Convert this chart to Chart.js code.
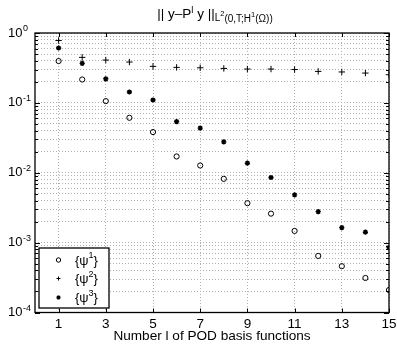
<!DOCTYPE html>
<html>
<head>
<meta charset="utf-8">
<script src="https://cdn.jsdelivr.net/npm/chart.js@4.4.1/dist/chart.umd.min.js"></script>
<style>
  html, body { margin: 0; padding: 0; background: #fff; }
</style>
</head>
<body>
<canvas id="myChart" width="397" height="344"></canvas>
<script>
// data
const nBasis = [1, 2, 3, 4, 5, 6, 7, 8, 9, 10, 11, 12, 13, 14, 15];
const psi1 = [0.397, 0.216, 0.106, 0.0612, 0.0382, 0.0171, 0.0127, 0.00818, 0.00367, 0.0026, 0.00147, 0.000645, 0.00046, 0.000312, 0.00021];
const psi2 = [0.78, 0.448, 0.41, 0.384, 0.333, 0.322, 0.318, 0.311, 0.305, 0.305, 0.30, 0.282, 0.277, 0.267, 0.253];
const psi3 = [0.61, 0.367, 0.221, 0.143, 0.11, 0.054, 0.0435, 0.0277, 0.0137, 0.00855, 0.00482, 0.00278, 0.00164, 0.00141, 0.000848];
const xTicks = [1, 3, 5, 7, 9, 11, 13, 15];
const yDecades = [-4, -3, -2, -1, 0];
const legendLabels = ['{\u03C8', '{\u03C8', '{\u03C8'];
const legendSups = ['1', '2', '3'];

const FONT = '"Liberation Sans", Arial, Helvetica, sans-serif';

function pts(arr) {
  return nBasis.map(function(n, i){ return {x: n, y: arr[i]}; });
}

// all minor + major log positions
const logTicks = [];
for (let d = -4; d < 0; d++) {
  for (let k = 1; k <= 9; k++) logTicks.push(k * Math.pow(10, d));
}
logTicks.push(1);

function marker(ctx, style, x, y) {
  ctx.save();
  ctx.strokeStyle = '#000';
  ctx.beginPath();
  if (style == 'circle') {
    ctx.lineWidth = 1;
    ctx.arc(x, y, 2.2, 0, Math.PI * 2);
  } else if (style == 'cross') {
    ctx.lineWidth = 1;
    ctx.moveTo(x - 2, y); ctx.lineTo(x + 2, y);
    ctx.moveTo(x, y - 2); ctx.lineTo(x, y + 2);
  } else {
    ctx.lineWidth = 1.4;
    const r = 2;
    for (let a = 0; a < 4; a++) {
      const t = a * Math.PI / 4;
      ctx.moveTo(x - r * Math.cos(t), y - r * Math.sin(t));
      ctx.lineTo(x + r * Math.cos(t), y + r * Math.sin(t));
    }
  }
  ctx.stroke();
  ctx.restore();
}

// draw a sequence of [text, size, dy] pieces
function drawPieces(ctx, pieces, cx, baseY) {
  let w = 0;
  pieces.forEach(function(p){ ctx.font = p[1] + 'px ' + FONT; w += ctx.measureText(p[0]).width; });
  let x = cx - w / 2;
  ctx.textAlign = 'left';
  ctx.textBaseline = 'alphabetic';
  pieces.forEach(function(p){
    ctx.font = p[1] + 'px ' + FONT;
    ctx.fillText(p[0], x, baseY + p[2]);
    x += ctx.measureText(p[0]).width;
  });
}

const decorations = {
  id: 'decorations',
  afterDraw: function(chart) {
    const ctx = chart.ctx;
    const a = chart.chartArea;
    const xs = chart.scales.x;
    const ys = chart.scales.y;
    ctx.save();
    ctx.fillStyle = '#000';
    ctx.strokeStyle = '#000';

    // tick marks inside the box
    ctx.lineWidth = 1;
    ctx.beginPath();
    xTicks.forEach(function(v){
      const px = Math.round(xs.getPixelForValue(v)) + 0.5;
      ctx.moveTo(px, a.bottom); ctx.lineTo(px, a.bottom - 4);
      ctx.moveTo(px, a.top); ctx.lineTo(px, a.top + 4);
    });
    logTicks.forEach(function(v){
      const py = Math.round(ys.getPixelForValue(v)) + 0.5;
      const len = (Math.abs(Math.log10(v) - Math.round(Math.log10(v))) < 1e-9) ? 5 : 3;
      ctx.moveTo(a.left, py); ctx.lineTo(a.left + len, py);
      ctx.moveTo(a.right, py); ctx.lineTo(a.right - len, py);
    });
    ctx.stroke();

    // box
    ctx.lineWidth = 1.3;
    ctx.strokeRect(a.left, a.top, a.right - a.left, a.bottom - a.top);

    // y labels 10^k
    yDecades.forEach(function(d){
      const py = ys.getPixelForValue(Math.pow(10, d));
      ctx.textAlign = 'left';
      ctx.textBaseline = 'middle';
      ctx.font = '13px ' + FONT;
      ctx.fillText('10', 8, py);
      const w = ctx.measureText('10').width;
      ctx.font = '9px ' + FONT;
      ctx.textBaseline = 'alphabetic';
      ctx.fillText(d == 0 ? '0' : '-' + (-d), 8 + w + 0.5, py - 2);
    });

    // x labels
    ctx.font = '13.5px ' + FONT;
    ctx.textAlign = 'center';
    ctx.textBaseline = 'middle';
    xTicks.forEach(function(v){
      ctx.fillText(String(v), xs.getPixelForValue(v), 324);
    });
    ctx.font = '13.6px ' + FONT;
    ctx.fillText('Number l of POD basis functions', (a.left + a.right) / 2, 336);

    // title
    drawPieces(ctx, [
      ['|| y\u2013P', 13.5, 0],
      ['l', 9.5, -5],
      [' y ||', 13.5, 0],
      ['L', 10, 3],
      ['2', 7.5, -2],
      ['(0,T;H', 10, 4],
      ['1', 7.5, -1],
      ['(\u03A9))', 10, 4]
    ], 215, 18);

    // legend box
    const lx = 39, ly = 248, lw = 70, lh = 60;
    ctx.fillStyle = '#fff';
    ctx.fillRect(lx, ly, lw, lh);
    ctx.lineWidth = 1.3;
    ctx.strokeRect(lx, ly, lw, lh);
    const styles = ['circle', 'cross', 'star'];
    const rows = [260, 278.5, 297.5];
    ctx.fillStyle = '#000';
    styles.forEach(function(s, i){
      marker(ctx, s, 58.5, rows[i]);
      ctx.textAlign = 'left';
      ctx.textBaseline = 'middle';
      ctx.font = '13px ' + FONT;
      ctx.fillText(legendLabels[i], 75, rows[i] + 1);
      let w = ctx.measureText(legendLabels[i]).width;
      ctx.font = '9px ' + FONT;
      ctx.textBaseline = 'alphabetic';
      ctx.fillText(legendSups[i], 75 + w, rows[i] - 2);
      w += ctx.measureText(legendSups[i]).width;
      ctx.font = '13px ' + FONT;
      ctx.textBaseline = 'middle';
      ctx.fillText('}', 75 + w, rows[i] + 1);
    });

    ctx.restore();
  }
};

const gridOpts = { color: '#b0b0b0', lineWidth: 1, drawTicks: false };

const ctx = document.getElementById('myChart').getContext('2d');

const chart = new Chart(ctx, {
  type: 'scatter',
  data: {
    datasets: [{
      label: 'psi1',
      data: pts(psi1),
      pointStyle: 'circle',
      radius: 2.6,
      borderColor: '#000',
      backgroundColor: 'rgba(0,0,0,0)',
      borderWidth: 1
    },
    {
      label: 'psi2',
      data: pts(psi2),
      pointStyle: 'cross',
      radius: 3.2,
      borderColor: '#000',
      backgroundColor: '#000',
      borderWidth: 1
    },
    {
      label: 'psi3',
      data: pts(psi3),
      pointStyle: 'star',
      radius: 2.6,
      borderColor: '#000',
      backgroundColor: '#000',
      borderWidth: 1.4
    }]
  },
  options: {
    responsive: false,
    animation: false,
    layout: { padding: { top: 33, right: 8, left: 0, bottom: 0 } },
    plugins: {
      legend: { display: false },
      tooltip: { enabled: false }
    },
    scales: {
      x: {
        type: 'linear',
        min: 0,
        max: 15,
        afterBuildTicks: function(s){ s.ticks = xTicks.map(function(v){ return {value: v}; }); },
        afterFit: function(s){ s.height = 31.5; },
        ticks: { display: false },
        grid: gridOpts,
        border: { display: false, dash: [1, 2] }
      },
      y: {
        type: 'logarithmic',
        min: 1e-4,
        max: 1,
        afterBuildTicks: function(s){ s.ticks = logTicks.map(function(v){ return {value: v}; }); },
        afterFit: function(s){ s.width = 35; },
        ticks: { display: false },
        grid: gridOpts,
        border: { display: false, dash: [1, 2] }
      }
    }
  },
  plugins: [decorations]
});
</script>
</body>
</html>
